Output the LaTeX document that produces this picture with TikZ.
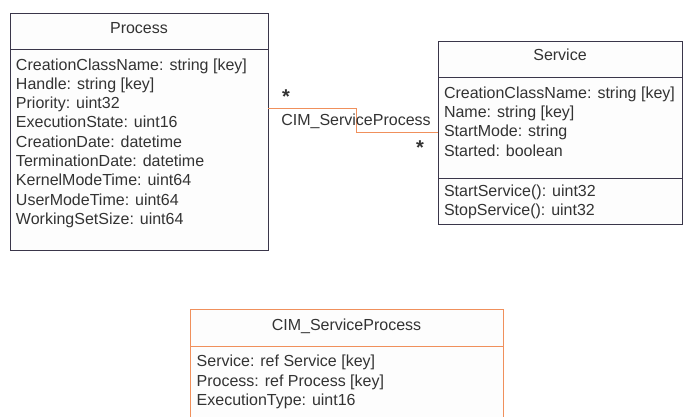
\documentclass[tikz,border=0pt]{standalone}
\usepackage{fontspec}
\setmainfont{Liberation Sans}
\definecolor{boxline}{HTML}{3A364A}
\definecolor{txt}{HTML}{333333}
\definecolor{assoc}{HTML}{F0905C}
\definecolor{boxfill}{HTML}{FDFDFD}
\begin{document}
\begin{tikzpicture}[x=1pt,y=-1pt,
  every node/.style={inner sep=0pt,outer sep=0pt,text=txt,font=\fontsize{16}{19.3}\selectfont},
  classbox/.style={draw=boxline,fill=boxfill,line width=0.8pt,anchor=north west},
  assocbox/.style={draw=assoc,fill=boxfill,line width=0.8pt,anchor=north west},
  sepline/.style={draw=boxline,line width=0.8pt},
  asepline/.style={draw=assoc,line width=0.8pt},
  attr/.style={anchor=base west,align=left},
  ttl/.style={anchor=base},
  mult/.style={anchor=center,font=\fontsize{20}{20}\selectfont\bfseries},
  assocline/.style={draw=assoc,line width=1pt}]
\clip (0,0) rectangle (683,416);
\fill[white] (0,0) rectangle (683,416);
% Process
\node[classbox,minimum width=258pt,minimum height=237pt] (process) at (10,13) {};
\draw[sepline] (10,49) -- (268,49);
\node[ttl] (ptitle) at (139,33.5) {Process};
\node[attr] (pattrs) at (16,70) {\begin{tabular}[t]{@{}l@{}}CreationClassName: string [key]\\Handle: string [key]\\Priority: uint32\\ExecutionState: uint16\\CreationDate: datetime\\TerminationDate: datetime\\KernelModeTime: uint64\\UserModeTime: uint64\\WorkingSetSize: uint64\end{tabular}};
% Service
\node[classbox,minimum width=244pt,minimum height=183pt] (service) at (438,41) {};
\draw[sepline] (438,77) -- (682,77);
\draw[sepline] (438,178) -- (682,178);
\node[ttl] (stitle) at (560,60.7) {Service};
\node[attr] (sattrs) at (444,98.3) {\begin{tabular}[t]{@{}l@{}}CreationClassName: string [key]\\Name: string [key]\\StartMode: string\\Started: boolean\end{tabular}};
\node[attr] (smeth) at (444,196) {\begin{tabular}[t]{@{}l@{}}StartService(): uint32\\StopService(): uint32\end{tabular}};
% association class
\node[assocbox,minimum width=313pt,minimum height=121pt] (cimsp) at (190,309) {};
\draw[asepline] (190,346) -- (503,346);
\node[ttl] (atitle) at (346.5,330) {CIM\_ServiceProcess};
\node[attr] (aattrs) at (196.7,366.7) {\begin{tabular}[t]{@{}l@{}}Service: ref Service [key]\\Process: ref Process [key]\\ExecutionType: uint16\end{tabular}};
% connector
\coordinate (j1) at (356.5,108.5);
\coordinate (j2) at (356.5,132.5);
\draw[assocline] (process.east |- j1) -- (j1) -- (j2) -- (service.west |- j2);
\node[attr] (alabel) at (281.3,125) {CIM\_ServiceProcess};
\node[mult] (m1) at (286,97) {*};
\node[mult] (m2) at (420,148) {*};
\end{tikzpicture}
\end{document}
